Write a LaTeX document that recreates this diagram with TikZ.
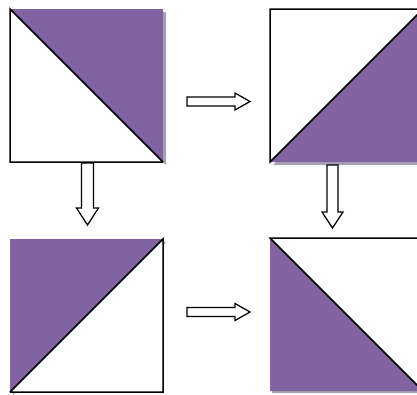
\documentclass[tikz,border=0pt]{standalone}
\definecolor{tilepurple}{RGB}{128,100,162}
\definecolor{tileshadow}{RGB}{168,160,178}
\tikzset{
  halfpurple/.style={fill=tilepurple, draw=none},
  halfwhite/.style={fill=white, draw=none},
  tileshade/.style={fill=tileshadow, draw=none},
  tileedge/.style={draw=black, line width=1.5pt, line join=miter},
  blockarrow/.style={draw=black, fill=white, line width=1.25pt, line join=miter}
}
\begin{document}
\begin{tikzpicture}[x=1pt,y=-1pt]
\useasboundingbox (0,0) rectangle (417,394);
% corner coordinates
\coordinate (a1) at (10,9);   \coordinate (b1) at (163,9);
\coordinate (c1) at (163,162);\coordinate (d1) at (10,162);
\coordinate (a2) at (270,9);  \coordinate (b2) at (423,9);
\coordinate (c2) at (423,162);\coordinate (d2) at (270,162);
\coordinate (a3) at (10,239); \coordinate (b3) at (163,239);
\coordinate (c3) at (163,392);\coordinate (d3) at (10,392);
\coordinate (a4) at (270,238);\coordinate (b4) at (423,238);
\coordinate (c4) at (423,391);\coordinate (d4) at (270,391);
% tile 1: purple upper right
\fill[tileshade] ([shift={(3,3)}]a1) -- ([shift={(3,3)}]b1) -- ([shift={(3,3)}]c1) -- cycle;
\fill[halfpurple] (a1) -- (b1) -- (c1) -- cycle;
\fill[halfwhite] (a1) -- (c1) -- (d1) -- cycle;
\draw[tileedge] (c1) -- (a1) -- (d1) -- (c1);
% tile 2: purple lower right
\fill[tileshade] ([shift={(3,3)}]d2) -- ([shift={(3,3)}]b2) -- ([shift={(3,3)}]c2) -- cycle;
\fill[halfpurple] (d2) -- (b2) -- (c2) -- cycle;
\fill[halfwhite] (a2) -- (b2) -- (d2) -- cycle;
\draw[tileedge] (b2) -- (a2) -- (d2) -- (b2);
% tile 3: purple upper left
\fill[tileshade] ([shift={(3,3)}]a3) -- ([shift={(3,3)}]b3) -- ([shift={(3,3)}]d3) -- cycle;
\fill[halfpurple] (a3) -- (b3) -- (d3) -- cycle;
\fill[halfwhite] (b3) -- (c3) -- (d3) -- cycle;
\draw[tileedge] (d3) -- (b3) -- (c3) -- (d3);
% tile 4: purple lower left
\fill[tileshade] ([shift={(2,2)}]a4) -- ([shift={(2,2)}]c4) -- ([shift={(2,2)}]d4) -- cycle;
\fill[halfpurple] (a4) -- (c4) -- (d4) -- cycle;
\fill[halfwhite] (a4) -- (b4) -- (c4) -- cycle;
\draw[tileedge] (c4) -- (a4) -- (b4) -- (c4);
% right arrows
\draw[blockarrow] (187,97) -- (235,97) -- (235,93) -- (250,101.5) -- (235,110) -- (235,106) -- (187,106) -- cycle;
\draw[blockarrow] (187,307.5) -- (235,307.5) -- (235,303.5) -- (250,312) -- (235,320.5) -- (235,316.5) -- (187,316.5) -- cycle;
% down arrows
\draw[blockarrow] (81.5,163) -- (81.5,208) -- (76.5,208) -- (87.5,225) -- (98.5,208) -- (93.5,208) -- (93.5,163) -- cycle;
\draw[blockarrow] (327,165) -- (327,212) -- (322,212) -- (332.5,228) -- (343,212) -- (338,212) -- (338,165) -- cycle;
\end{tikzpicture}
\end{document}
